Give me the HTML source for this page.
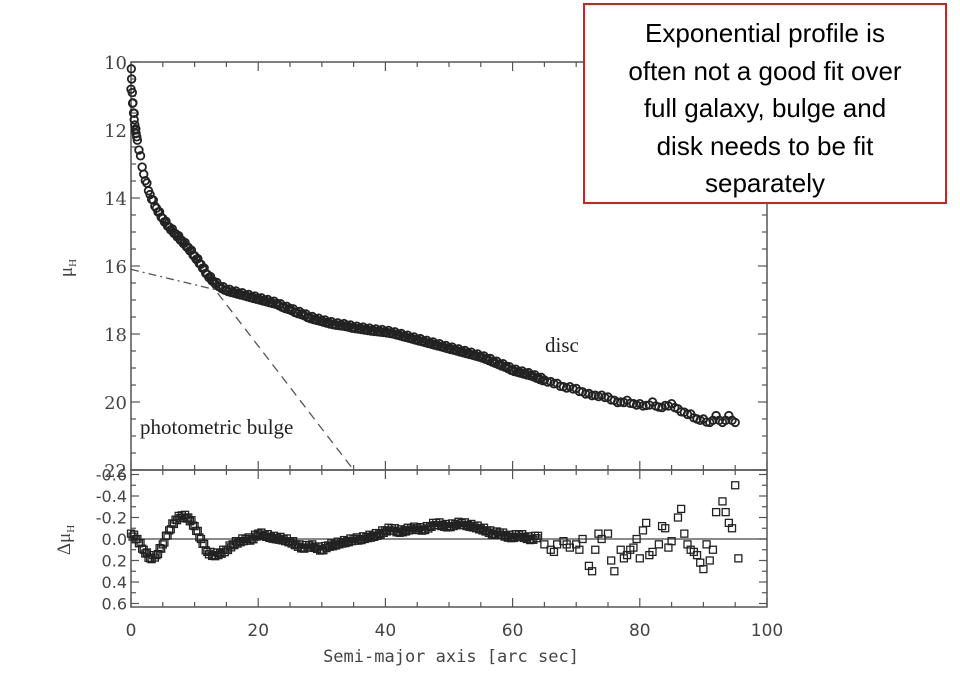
<!DOCTYPE html>
<html><head><meta charset="utf-8"><style>
html,body{margin:0;padding:0;background:#fff;width:960px;height:686px;overflow:hidden}
svg{position:absolute;left:0;top:0}
.note{position:absolute;left:583px;top:3px;width:360px;height:187px;border:2px solid #cc2222;background:#fff;font-family:"Liberation Sans",sans-serif;font-size:26px;line-height:37.5px;text-align:center;color:#000;padding-top:10px;box-sizing:content-box}
</style></head><body>
<svg id="chart" width="960" height="686"></svg>
<div class="note">Exponential profile is<br>often not a good fit over<br>full galaxy, bulge and<br>disk needs to be fit<br>separately</div>
<script>
const profileX = [];
for (let i = 0; i <= 95; i++) profileX.push(i);
const profileMu = [10.8,12.3,13.3,13.9,14.3,14.6,14.85,15.05,15.25,15.45,15.7,15.95,16.25,16.45,16.6,16.7,16.75,16.8,16.85,16.9,16.95,17.0,17.05,17.1,17.2,17.25,17.35,17.4,17.5,17.55,17.6,17.65,17.7,17.72,17.75,17.8,17.82,17.85,17.88,17.9,17.92,17.95,18.0,18.05,18.1,18.15,18.2,18.25,18.3,18.35,18.4,18.45,18.5,18.55,18.6,18.65,18.72,18.8,18.88,18.95,19.05,19.1,19.15,19.2,19.28,19.35,19.4,19.45,19.55,19.55,19.6,19.7,19.75,19.8,19.8,19.85,19.95,20.0,19.95,20.05,20.05,20.1,20.0,20.15,20.1,20.05,20.2,20.3,20.35,20.5,20.5,20.6,20.4,20.6,20.4,20.6];
const innerX = [0.05,0.1,0.2,0.3,0.4,0.5,0.6,0.7,0.8,0.9];
const innerMu = [10.2,10.5,10.9,11.2,11.5,11.7,11.85,12.0,12.1,12.2];
const residX = profileX;
const residVal = [-0.05,0.0,0.1,0.18,0.15,0.05,-0.08,-0.18,-0.22,-0.2,-0.12,0.0,0.12,0.15,0.13,0.1,0.05,0.02,0.0,0.0,-0.05,-0.04,-0.02,-0.01,0.0,0.02,0.05,0.08,0.06,0.07,0.1,0.06,0.05,0.03,0.02,0.0,0.0,-0.02,-0.03,-0.05,-0.08,-0.1,-0.07,-0.08,-0.1,-0.1,-0.09,-0.12,-0.15,-0.13,-0.12,-0.14,-0.15,-0.13,-0.12,-0.1,-0.08,-0.05,-0.06,-0.03,-0.02,-0.04,-0.02,0.0,-0.03,0.05,0.1,0.05,0.02,0.08,0.05,0.0,0.25,0.1,0.0,-0.05,0.3,0.1,0.15,0.08,0.18,-0.15,0.12,0.05,-0.1,0.02,-0.2,-0.05,0.1,0.15,0.28,0.2,-0.25,-0.35,-0.15,-0.5];
const extraX = [66.5,68.5,70.5,72.5,73.5,75.5,77.5,78.5,79.5,80.5,81.5,83.5,84.5,86.5,87.5,88.5,89.5,90.5,91.5,93.5,94.5,95.5];
const extraVal = [0.12,0.05,0.1,0.3,-0.05,0.2,0.18,0.1,0.0,-0.08,0.15,-0.12,0.08,-0.28,0.05,0.12,0.22,0.05,0.1,-0.25,-0.1,0.18];
const bulgeLine = [[5,14.7],[35,22]];
const discLine = [[0,16.1],[20,17.0]];
const xTicks = [0,20,40,60,80,100];
const muTicks = [10,12,14,16,18,20,22];
const resTicks = [-0.6,-0.4,-0.2,0.0,0.2,0.4,0.6];
const resTickLabels = ["-0.6","-0.4","-0.2","0.0","0.2","0.4","0.6"];

const L=131,R=767,T1=62,B1=470,B2=607;
const sx=v=>L+(v/100)*(R-L);
const sy=v=>T1+(v-10)*(B1-T1)/12;
const sr=v=>539+v*107.5;
const svg=document.getElementById('chart');
const NS='http://www.w3.org/2000/svg';
function mk(tag,attrs,parent){const e=document.createElementNS(NS,tag);for(const k in attrs)e.setAttribute(k,attrs[k]);(parent||svg).appendChild(e);return e;}
const axc='#555';
let f1=mk('rect',{x:L,y:T1,width:R-L,height:B1-T1,fill:'none',stroke:axc,'stroke-width':1.5});


let f2=mk('rect',{x:L,y:B1,width:R-L,height:B2-B1,fill:'none',stroke:axc,'stroke-width':1.5});


for(let v=0;v<=100;v+=5){
 const len=(v%20===0)?9:5;
 for(const [yy,d] of [[T1,1],[B1,-1],[B1,1],[B2,-1]]){
  mk('line',{x1:sx(v),x2:sx(v),y1:yy,y2:yy+d*len,stroke:axc,'stroke-width':1.2});
 }
}
xTicks.forEach(v=>{const t=mk('text',{x:sx(v),y:636,'text-anchor':'middle','font-family':'DejaVu Sans, sans-serif','font-size':17,fill:'#444'});t.textContent=v;

});
for(let v=10;v<=22;v+=0.5){
 const len=(Math.abs(v%2)<1e-9)?9:5;
 mk('line',{x1:L,x2:L+len,y1:sy(v),y2:sy(v),stroke:axc,'stroke-width':1.2});
 mk('line',{x1:R,x2:R-len,y1:sy(v),y2:sy(v),stroke:axc,'stroke-width':1.2});
}
muTicks.forEach(v=>{const t=mk('text',{x:127,y:sy(v)+7,'text-anchor':'end','font-family':'DejaVu Serif, serif','font-size':18,fill:'#444'});t.textContent=v;

});
for(let v=-0.6;v<=0.61;v+=0.1){
 const len=(Math.round(v*10)%2===0)?8:5;
 mk('line',{x1:L,x2:L+len,y1:sr(v),y2:sr(v),stroke:axc,'stroke-width':1.2});
 mk('line',{x1:R,x2:R-len,y1:sr(v),y2:sr(v),stroke:axc,'stroke-width':1.2});
}
resTicks.forEach((v,i)=>{const t=mk('text',{x:127,y:sr(v)+6,'text-anchor':'end','font-family':'DejaVu Sans, sans-serif','font-size':16,fill:'#444'});t.textContent=resTickLabels[i];

});
mk('line',{x1:L,x2:R,y1:sr(0),y2:sr(0),stroke:'#444','stroke-width':1.2});
let bl=mk('line',{x1:sx(bulgeLine[0][0]),y1:sy(bulgeLine[0][1]),x2:sx(bulgeLine[1][0]),y2:sy(bulgeLine[1][1]),stroke:'#555','stroke-width':1.3,'stroke-dasharray':'9,6'});


let dl=mk('line',{x1:sx(discLine[0][0]),y1:sy(discLine[0][1]),x2:sx(discLine[1][0]),y2:sy(discLine[1][1]),stroke:'#555','stroke-width':1.3,'stroke-dasharray':'8,4,2,4'});


function circ(x,m){const c=mk('circle',{cx:sx(x),cy:sy(m),r:3.8,fill:'none',stroke:'#222','stroke-width':1.8});

}
innerX.forEach((x,i)=>circ(x,innerMu[i]));
profileX.forEach((x,i)=>{circ(x,profileMu[i]);
 if(i<95){const sub=i<65?4:2;for(let k=1;k<sub;k++){const f=k/sub;circ(x+f,profileMu[i]+(profileMu[i+1]-profileMu[i])*f+(k%2?0.04:-0.04));}}});
function sq(x,v){const s=mk('rect',{x:sx(x)-3.5,y:sr(v)-3.5,width:7,height:7,fill:'none',stroke:'#222','stroke-width':1.3});

}
residX.forEach((x,i)=>sq(x,residVal[i]));
for(let i=0;i<64;i++){for(let k=1;k<4;k++){const f=k/4;sq(residX[i]+f,residVal[i]+(residVal[i+1]-residVal[i])*f+(k%2?0.015:-0.015));}}
extraX.forEach((x,i)=>sq(x,extraVal[i]));
function txt(s,attrs,name){const t=mk('text',attrs);t.textContent=s;return t;}
txt('disc',{x:545,y:352,'font-family':'Liberation Serif, serif','font-size':21,fill:'#222'},'disc-label');
txt('photometric bulge',{x:140,y:434,'font-family':'Liberation Serif, serif','font-size':21,fill:'#222'},'bulge-label');
txt('Semi-major axis [arc sec]',{x:451,y:662,'text-anchor':'middle','font-family':'DejaVu Sans Mono, monospace','font-size':17,fill:'#444'},'x-axis-title');
const yl=txt('',{transform:'translate(72,268) rotate(-90)','text-anchor':'middle','font-family':'Liberation Serif, serif','font-size':19,fill:'#444'},'y-axis-title');
yl.innerHTML='μ<tspan font-size="11" dy="4">H</tspan>';
const rl=txt('',{transform:'translate(70,540) rotate(-90)','text-anchor':'middle','font-family':'Liberation Serif, serif','font-size':19,fill:'#444'},'residual-axis-title');
rl.innerHTML='Δμ<tspan font-size="11" dy="4">H</tspan>';
</script>
</body></html>
